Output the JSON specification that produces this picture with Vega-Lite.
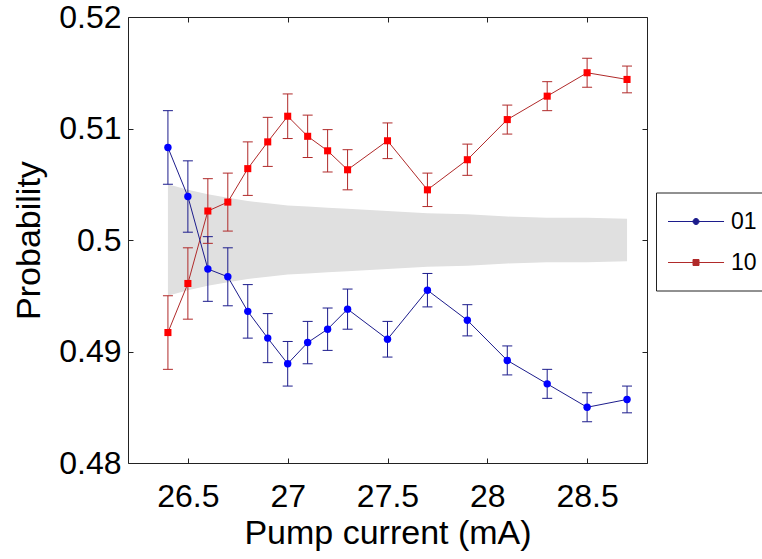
{
  "$schema": "https://vega.github.io/schema/vega-lite/v6.json",
  "width": 519,
  "height": 446,
  "autosize": "none",
  "padding": {"left": 128, "top": 17, "right": 115, "bottom": 96},
  "background": "white",
  "config": {
    "view": {"stroke": null},
    "font": "Liberation Sans",
    "axis": {
      "domainColor": "#222222",
      "domainWidth": 1,
      "tickColor": "#222222",
      "tickSize": -5,
      "grid": false,
      "labelFont": "Liberation Sans",
      "labelFontSize": 32,
      "labelColor": "black",
      "titleFont": "Liberation Sans",
      "titleFontSize": 34,
      "titleFontWeight": "normal",
      "titleColor": "black",
      "format": "~g"
    }
  },
  "datasets": {
    "pts": [
      {"I": 26.4, "s": "10", "p": 0.4917, "lo": 0.4884, "hi": 0.4950},
      {"I": 26.5, "s": "10", "p": 0.4961, "lo": 0.4929, "hi": 0.4993},
      {"I": 26.6, "s": "10", "p": 0.5026, "lo": 0.4997, "hi": 0.5055},
      {"I": 26.7, "s": "10", "p": 0.5034, "lo": 0.5008, "hi": 0.5060},
      {"I": 26.8, "s": "10", "p": 0.5064, "lo": 0.5040, "hi": 0.5088},
      {"I": 26.9, "s": "10", "p": 0.5088, "lo": 0.5066, "hi": 0.5110},
      {"I": 27.0, "s": "10", "p": 0.5111, "lo": 0.5091, "hi": 0.5131},
      {"I": 27.1, "s": "10", "p": 0.5093, "lo": 0.5074, "hi": 0.5112},
      {"I": 27.2, "s": "10", "p": 0.5080, "lo": 0.5061, "hi": 0.5099},
      {"I": 27.3, "s": "10", "p": 0.5063, "lo": 0.5045, "hi": 0.5081},
      {"I": 27.5, "s": "10", "p": 0.5089, "lo": 0.5073, "hi": 0.5105},
      {"I": 27.7, "s": "10", "p": 0.5045, "lo": 0.5030, "hi": 0.5060},
      {"I": 27.9, "s": "10", "p": 0.5072, "lo": 0.5058, "hi": 0.5086},
      {"I": 28.1, "s": "10", "p": 0.5108, "lo": 0.5095, "hi": 0.5121},
      {"I": 28.3, "s": "10", "p": 0.5129, "lo": 0.5116, "hi": 0.5142},
      {"I": 28.5, "s": "10", "p": 0.5150, "lo": 0.5137, "hi": 0.5163},
      {"I": 28.7, "s": "10", "p": 0.5144, "lo": 0.5132, "hi": 0.5156},
      {"I": 26.4, "s": "01", "p": 0.5083, "lo": 0.5050, "hi": 0.5116},
      {"I": 26.5, "s": "01", "p": 0.5039, "lo": 0.5007, "hi": 0.5071},
      {"I": 26.6, "s": "01", "p": 0.4974, "lo": 0.4945, "hi": 0.5003},
      {"I": 26.7, "s": "01", "p": 0.4967, "lo": 0.4941, "hi": 0.4993},
      {"I": 26.8, "s": "01", "p": 0.4936, "lo": 0.4912, "hi": 0.4960},
      {"I": 26.9, "s": "01", "p": 0.4912, "lo": 0.4890, "hi": 0.4934},
      {"I": 27.0, "s": "01", "p": 0.4889, "lo": 0.4869, "hi": 0.4909},
      {"I": 27.1, "s": "01", "p": 0.4908, "lo": 0.4889, "hi": 0.4927},
      {"I": 27.2, "s": "01", "p": 0.4920, "lo": 0.4901, "hi": 0.4939},
      {"I": 27.3, "s": "01", "p": 0.4938, "lo": 0.4920, "hi": 0.4956},
      {"I": 27.5, "s": "01", "p": 0.4911, "lo": 0.4895, "hi": 0.4927},
      {"I": 27.7, "s": "01", "p": 0.4955, "lo": 0.4940, "hi": 0.4970},
      {"I": 27.9, "s": "01", "p": 0.4928, "lo": 0.4914, "hi": 0.4942},
      {"I": 28.1, "s": "01", "p": 0.4892, "lo": 0.4879, "hi": 0.4905},
      {"I": 28.3, "s": "01", "p": 0.4871, "lo": 0.4858, "hi": 0.4884},
      {"I": 28.5, "s": "01", "p": 0.4850, "lo": 0.4837, "hi": 0.4863},
      {"I": 28.7, "s": "01", "p": 0.4857, "lo": 0.4845, "hi": 0.4869}
    ],
    "band": [
      {"I": 26.4, "lo": 0.4950, "hi": 0.5050},
      {"I": 26.5, "lo": 0.4955, "hi": 0.5045},
      {"I": 26.6, "lo": 0.4959, "hi": 0.5041},
      {"I": 26.7, "lo": 0.4962, "hi": 0.5038},
      {"I": 26.8, "lo": 0.4965, "hi": 0.5035},
      {"I": 26.9, "lo": 0.4967, "hi": 0.5033},
      {"I": 27.0, "lo": 0.4969, "hi": 0.5031},
      {"I": 27.1, "lo": 0.4970, "hi": 0.5030},
      {"I": 27.2, "lo": 0.4971, "hi": 0.5029},
      {"I": 27.3, "lo": 0.4972, "hi": 0.5028},
      {"I": 27.5, "lo": 0.4974, "hi": 0.5026},
      {"I": 27.7, "lo": 0.4976, "hi": 0.5024},
      {"I": 27.9, "lo": 0.4977, "hi": 0.5023},
      {"I": 28.1, "lo": 0.4979, "hi": 0.5021},
      {"I": 28.3, "lo": 0.4980, "hi": 0.5020},
      {"I": 28.5, "lo": 0.4980, "hi": 0.5020},
      {"I": 28.7, "lo": 0.4981, "hi": 0.5019}
    ]
  },
  "resolve": {"axis": {"x": "independent", "y": "independent"}},
  "layer": [
    {
      "data": {"name": "band"},
      "mark": {"type": "area", "color": "#e0e0e0", "opacity": 1},
      "encoding": {
        "x": {"field": "I", "type": "quantitative", "scale": {"domain": [26.2, 28.8], "nice": false, "zero": false},
              "axis": {"orient": "bottom", "title": "Pump current (mA)", "values": [26.5, 27, 27.5, 28, 28.5], "labelPadding": 23, "titlePadding": 4}},
        "y": {"field": "hi", "type": "quantitative", "scale": {"domain": [0.48, 0.52], "nice": false, "zero": false},
              "axis": {"orient": "left", "title": "Probability", "values": [0.48, 0.49, 0.5, 0.51, 0.52], "labelPadding": 12, "titlePadding": 12}},
        "y2": {"field": "lo"}
      }
    },
    {
      "data": {"name": "band"},
      "mark": {"type": "point", "opacity": 0},
      "encoding": {
        "x": {"field": "I", "type": "quantitative", "axis": {"orient": "top", "title": null, "labels": false, "values": [26.5, 27, 27.5, 28, 28.5]}},
        "y": {"field": "hi", "type": "quantitative", "axis": {"orient": "right", "title": null, "labels": false, "values": [0.48, 0.49, 0.5, 0.51, 0.52]}}
      }
    },
    {
      "data": {"name": "pts"},
      "mark": {"type": "line", "strokeWidth": 1},
      "encoding": {
        "x": {"field": "I", "type": "quantitative", "axis": null},
        "y": {"field": "p", "type": "quantitative", "axis": null},
        "color": {"field": "s", "type": "nominal", "scale": {"domain": ["01", "10"], "range": ["#1c1c8c", "#b02a2a"]},
          "legend": {
            "orient": "none", "legendX": 528, "legendY": 175.5, "title": null, "direction": "vertical",
            "strokeColor": "#222222", "fillColor": "white", "padding": 8, "rowPadding": 0,
            "symbolSize": 1681, "symbolStrokeWidth": 1, "labelFontSize": 23, "labelFont": "Liberation Sans", "labelColor": "black", "labelOffset": 25,
            "encode": {
              "symbols": {
                "update": {
                  "shape": {"signal": "datum.value === '01' ? 'M0,-0.878M0,0.878M-0.829,0H1.904M0.683,0A0.146,0.146,0,1,1,0.391,0A0.146,0.146,0,1,1,0.683,0Z' : 'M0,-0.878M0,0.878M-0.829,0H1.904M0.391,-0.146H0.683V0.146H0.391Z'"},
                  "fill": {"signal": "datum.value === '01' ? '#0000ff' : '#ff0000'"},
                  "stroke": {"signal": "datum.value === '01' ? '#1c1c8c' : '#b02a2a'"},
                  "strokeWidth": {"value": 1},
                  "opacity": {"value": 1},
                  "fillOpacity": {"value": 1}
                }
              }
            }
          }
        }
      }
    },
    {
      "data": {"name": "pts"},
      "mark": {"type": "rule", "strokeWidth": 1},
      "encoding": {
        "x": {"field": "I", "type": "quantitative", "axis": null},
        "y": {"field": "lo", "type": "quantitative", "axis": null},
        "y2": {"field": "hi"},
        "color": {"field": "s", "type": "nominal", "legend": null}
      }
    },
    {
      "data": {"name": "pts"},
      "mark": {"type": "tick", "orient": "horizontal", "size": 10, "thickness": 1, "opacity": 1},
      "encoding": {
        "x": {"field": "I", "type": "quantitative", "axis": null},
        "y": {"field": "lo", "type": "quantitative", "axis": null},
        "color": {"field": "s", "type": "nominal", "legend": null}
      }
    },
    {
      "data": {"name": "pts"},
      "mark": {"type": "tick", "orient": "horizontal", "size": 10, "thickness": 1, "opacity": 1},
      "encoding": {
        "x": {"field": "I", "type": "quantitative", "axis": null},
        "y": {"field": "hi", "type": "quantitative", "axis": null},
        "color": {"field": "s", "type": "nominal", "legend": null}
      }
    },
    {
      "data": {"name": "pts"},
      "transform": [{"filter": "datum.s === '01'"}],
      "mark": {"type": "point", "filled": true, "opacity": 1, "size": 55, "strokeWidth": 0, "shape": "circle", "fill": "#0000ff"},
      "encoding": {
        "x": {"field": "I", "type": "quantitative", "axis": null},
        "y": {"field": "p", "type": "quantitative", "axis": null}
      }
    },
    {
      "data": {"name": "pts"},
      "transform": [{"filter": "datum.s === '10'"}],
      "mark": {"type": "point", "filled": true, "opacity": 1, "size": 50, "strokeWidth": 0, "shape": "square", "fill": "#ff0000"},
      "encoding": {
        "x": {"field": "I", "type": "quantitative", "axis": null},
        "y": {"field": "p", "type": "quantitative", "axis": null}
      }
    }
  ]
}
